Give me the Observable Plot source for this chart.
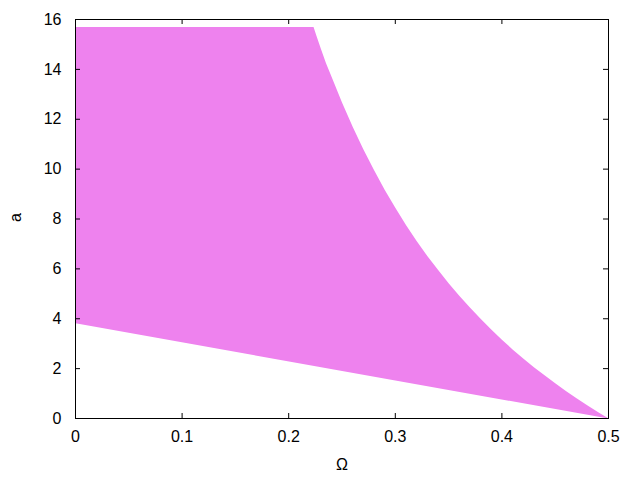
<!DOCTYPE html>
<html>
<head>
<meta charset="utf-8">
<script src="https://cdn.jsdelivr.net/npm/d3@7"></script>
<script src="https://cdn.jsdelivr.net/npm/@observablehq/plot@0.6"></script>
<style>
  html, body { margin: 0; padding: 0; background: #fff; }
  svg { display: block; }
</style>
</head>
<body>
<div id="chart"></div>
<script>
// Upper boundary of the region
const upperOmega = [0, 0.2233, 0.226, 0.23, 0.235, 0.24, 0.25, 0.26, 0.27, 0.28, 0.29, 0.30, 0.31, 0.32, 0.33, 0.34, 0.35, 0.36, 0.37, 0.38, 0.39, 0.40, 0.41, 0.42, 0.43, 0.44, 0.45, 0.46, 0.47, 0.48, 0.49, 0.50];
const upperA     = [15.7, 15.7, 15.35, 14.85, 14.25, 13.72, 12.67, 11.7, 10.8, 9.96, 9.17, 8.45, 7.76, 7.12, 6.52, 5.96, 5.42, 4.92, 4.45, 4.0, 3.57, 3.16, 2.77, 2.41, 2.06, 1.73, 1.41, 1.1, 0.81, 0.53, 0.26, 0];
// Lower boundary (straight line)
const lowerOmega = [0, 0.5];
const lowerA     = [3.82, 0];

const xTicks = [0, 0.1, 0.2, 0.3, 0.4, 0.5];
const yTicks = [0, 2, 4, 6, 8, 10, 12, 14, 16];

const polygon = [
  ...upperOmega.map((o, i) => ({o, a: upperA[i]})),
  ...lowerOmega.map((o, i) => ({o, a: lowerA[i]})).reverse()
];

const W = 640, H = 480, mL = 75, mR = 32, mT = 19, mB = 62;
const fw = W - mL - mR, fh = H - mT - mB, tk = 5;

const chart = Plot.plot({
  width: W, height: H,
  marginLeft: mL, marginRight: mR, marginTop: mT, marginBottom: mB,
  style: {fontFamily: "'Liberation Sans', Arial, sans-serif", fontSize: "16px", color: "#000", background: "#fff"},
  x: {domain: [0, 0.5]},
  y: {domain: [0, 16]},
  marks: [
    Plot.line(polygon, {x: "o", y: "a", fill: "violet", stroke: "none"}),
    Plot.tickX(xTicks, {x: d => d, insetTop: fh - tk, stroke: "#000"}),
    Plot.tickX(xTicks, {x: d => d, insetBottom: fh - tk, stroke: "#000"}),
    Plot.tickY(yTicks, {y: d => d, insetRight: fw - tk, stroke: "#000"}),
    Plot.tickY(yTicks, {y: d => d, insetLeft: fw - tk, stroke: "#000"}),
    Plot.frame({stroke: "#000"}),
    Plot.axisX(xTicks, {tickSize: 0, tickPadding: 12, tickFormat: d => String(d), label: null, fontSize: 16, fill: "#000"}),
    Plot.axisY(yTicks, {tickSize: 0, tickPadding: 14, tickFormat: d => String(d), label: null, fontSize: 16, fill: "#000"}),
    Plot.text(["Ω"], {frameAnchor: "bottom", dy: 51, fontSize: 16, fill: "#000"}),
    Plot.text(["a"], {frameAnchor: "left", dx: -60, dy: 3, rotate: -90, fontSize: 16, fill: "#000"})
  ]
});
document.getElementById("chart").appendChild(chart);
</script>
</body>
</html>
